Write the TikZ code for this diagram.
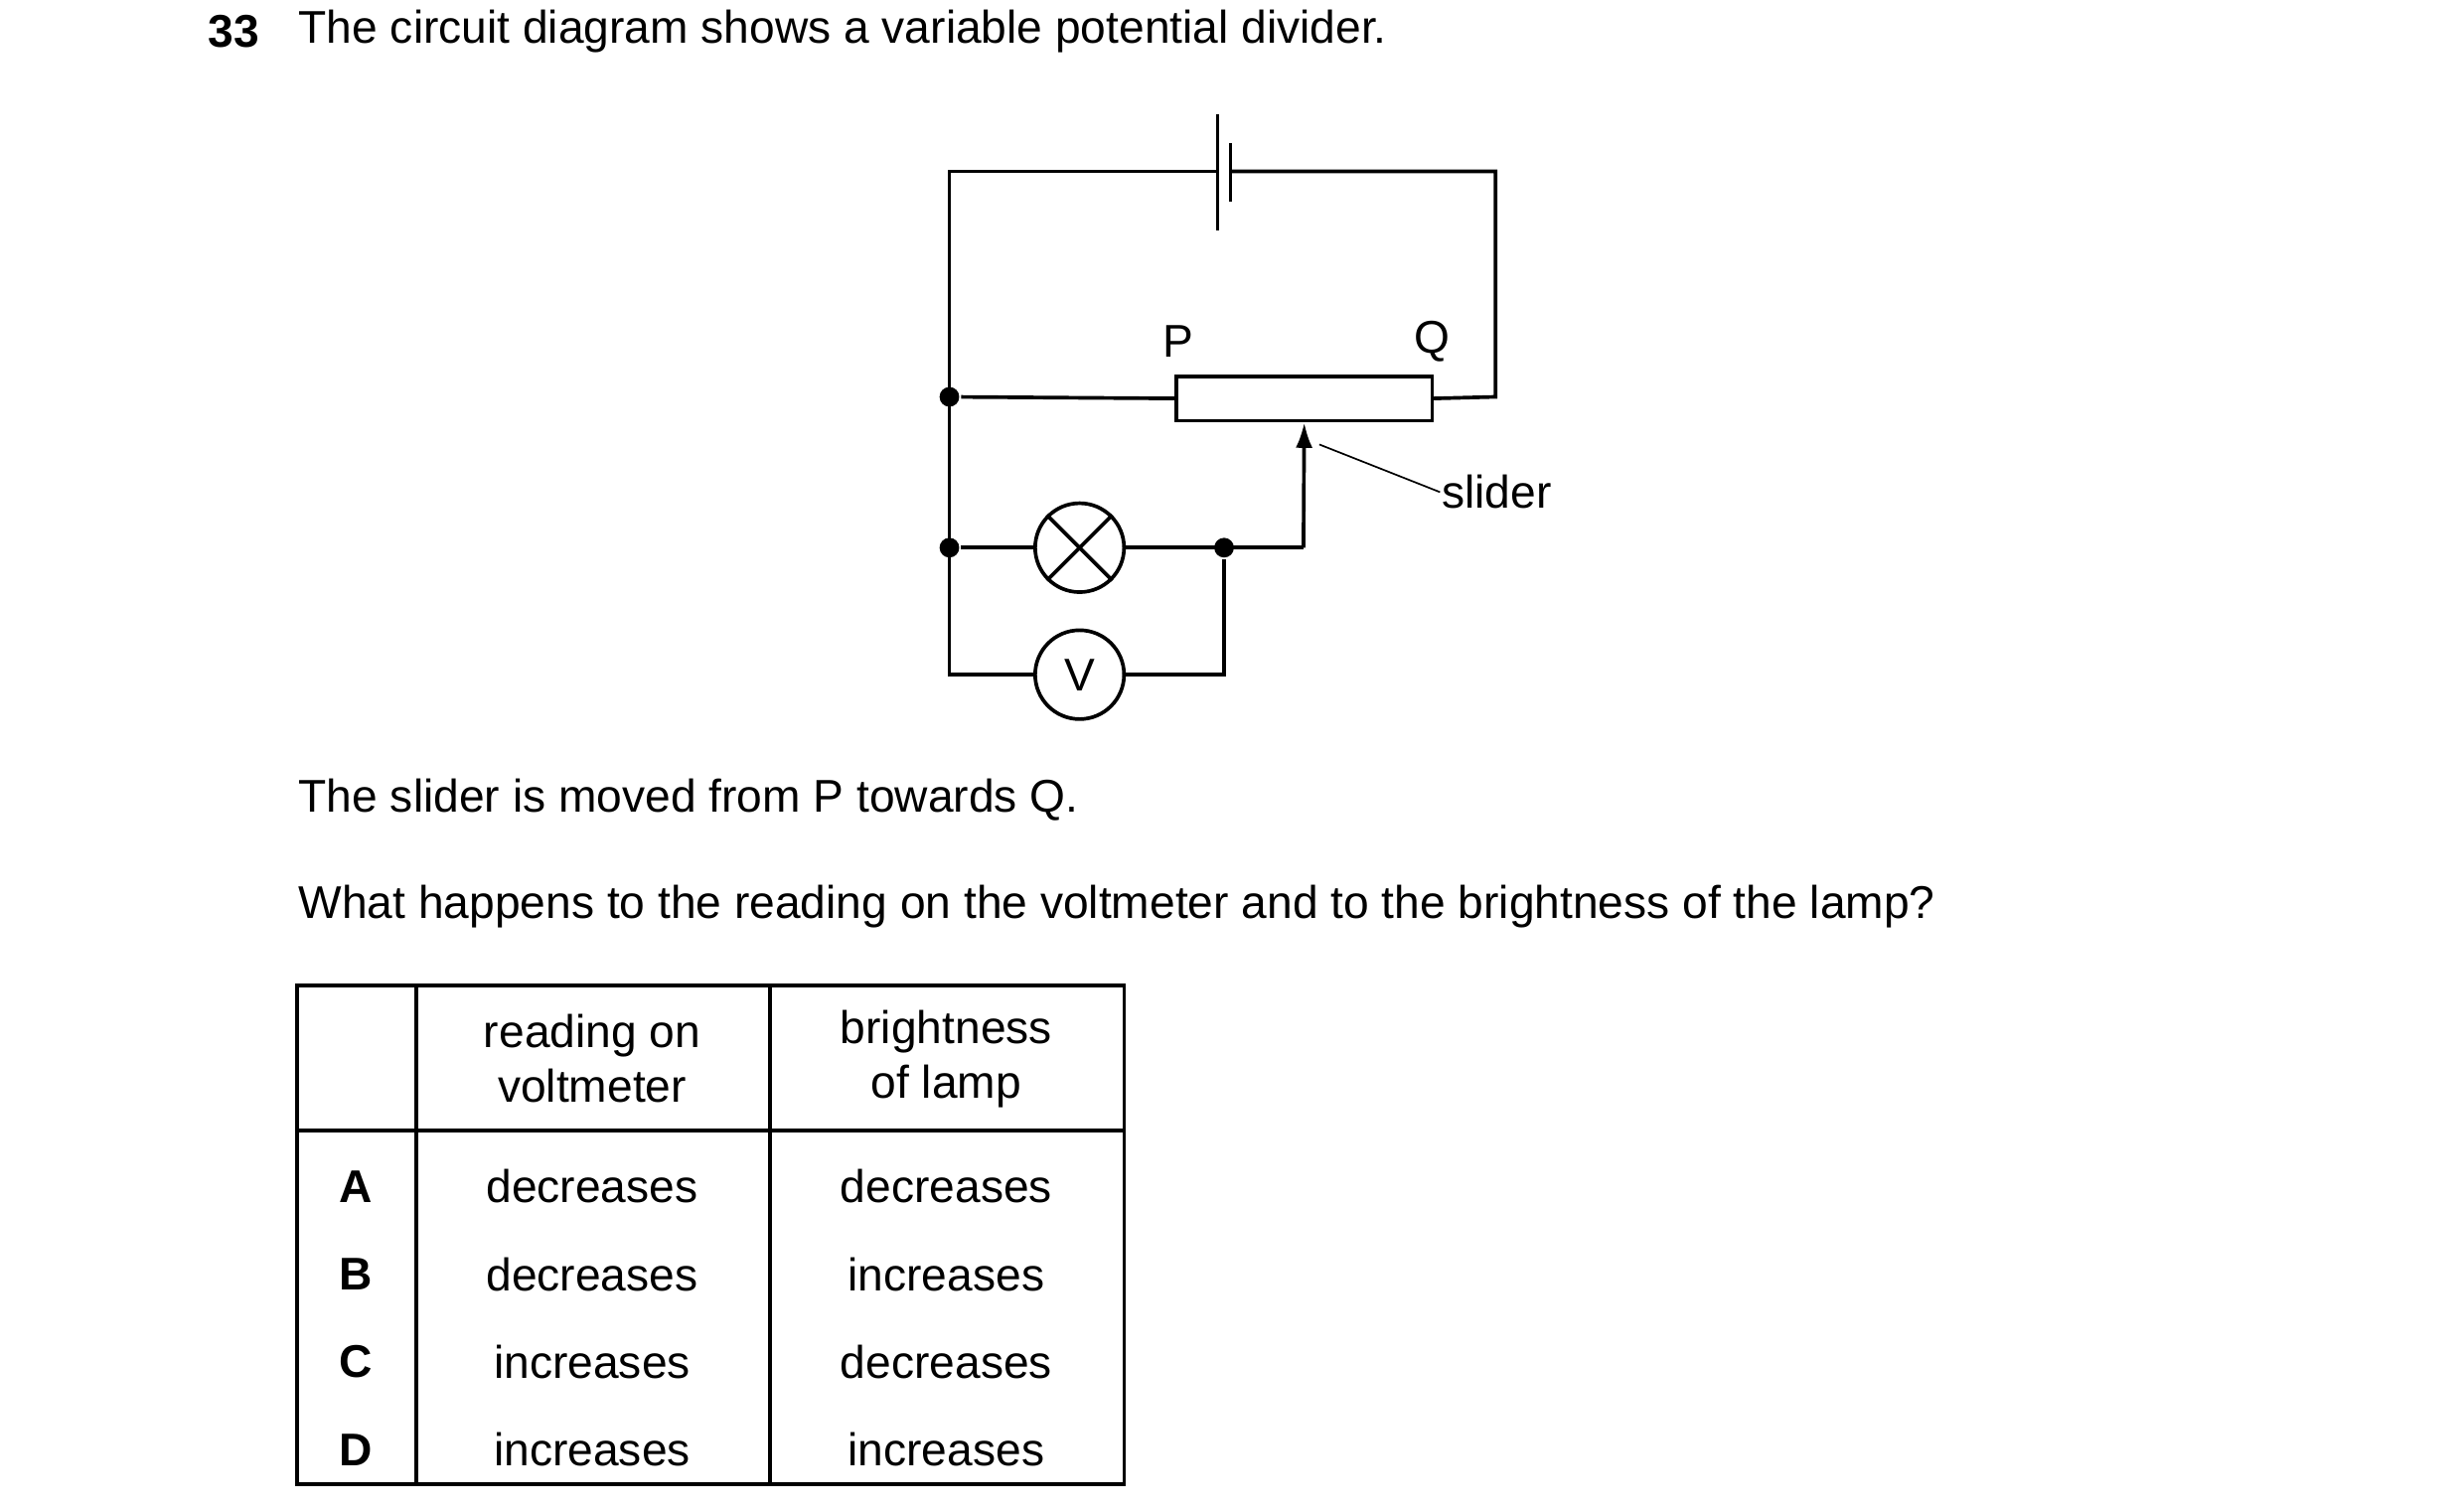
\documentclass[tikz,border=0pt]{standalone}
\usepackage{fontspec}
\setmainfont{Liberation Sans}
\usetikzlibrary{arrows.meta,positioning}
\begin{document}
\begin{tikzpicture}[
    x=0.01984cm,y=-0.01984cm,line width=1.3pt,>={Latex[length=9pt,width=6pt]},
    every node/.style = {font=\fontsize{16.3}{19.5}\selectfont},
    dot/.style        = {circle,fill,inner sep=0pt,minimum size=7pt},
    meter/.style      = {circle,draw,minimum size=56*0.01984cm,inner sep=0pt},
    txt/.style        = {anchor=west,inner sep=0pt}
]
\useasboundingbox (0,0) rectangle (1552,950);

% question text
\node [txt] (num) at (130,20) {\textbf{33}};
\node [txt] (q1)  at (187,20) {The circuit diagram shows a variable potential divider.};
\node [txt] (q2)  at (187,504) {The slider is moved from P towards Q.};
\node [txt] (q3)  at (187,571) {What happens to the reading on the voltmeter and to the brightness of the lamp?};

% circuit
\coordinate (tl) at (598,108);
\coordinate (tr) at (942,108);
\coordinate (br) at (942,250);
\coordinate (bl) at (598,425);
\coordinate (bt1) at (767,108);
\coordinate (bt2) at (775,108);
\node [dot] (j1) at (598,250) {};
\node [dot] (j2) at (598,345) {};
\node [dot] (j3) at (771,345) {};
\node [draw,minimum width=161*0.01984cm,minimum height=28*0.01984cm,inner sep=0pt] (res) at (821.5,251) {};
\node [meter] (lamp) at (680,345) {};
\draw (lamp.45) -- (lamp.225) (lamp.135) -- (lamp.315);
\node [meter] (volt) at (680,425) {V};
\coordinate (sl) at (821,345);
\coordinate (vr) at (771,425);

\draw (bt1) -- (tl) -- (bl) -- (volt.west);
\draw (bt2) -- (tr) -- (br) -- (res.east);
\draw (767,72) -- (767,145);
\draw (775,90) -- (775,127);
\draw (j1) -- (res.west);
\draw (j2) -- (lamp.west);
\draw (lamp.east) -- (sl);
\draw [->] (sl) -- (res.south);
\draw (volt.east) -- (vr) -- (j3);

\node (P) at (742,215) {P};
\node (Q) at (902,215) {Q};
\node [txt] (slider) at (907,310) {slider};
\draw [line width=0.6pt] (831,280) -- (slider.west);

% table
\draw (187,621) rectangle (708,935);
\draw (262,621) -- (262,935) (485,621) -- (485,935) (187,712) -- (708,712);
\node [align=center] (h1) at (373,667) {reading on\\voltmeter};
\node [align=center] (h2) at (596,667) {brightness\\of lamp};
\foreach \l/\a/\b [count=\i] in {A/decreases/decreases,B/decreases/increases,C/increases/decreases,D/increases/increases}{
    \node (l\i) at (224,692+\i*55.3) {\textbf{\l}};
    \node (a\i) at (373,692+\i*55.3) {\a};
    \node (b\i) at (596,692+\i*55.3) {\b};
}
\end{tikzpicture}
\end{document}
